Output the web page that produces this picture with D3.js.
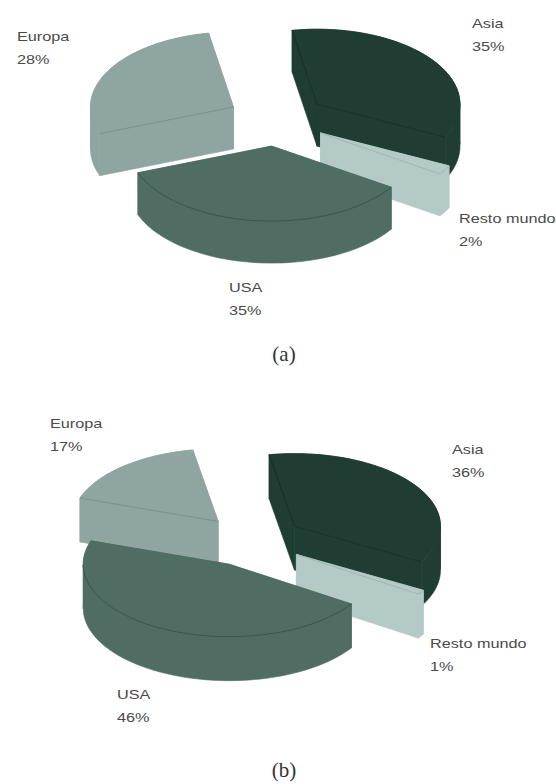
<!DOCTYPE html>
<html>
<head>
<meta charset="utf-8">
<script src="https://cdn.jsdelivr.net/npm/d3@7/dist/d3.min.js"></script>
<style>
  html, body { margin: 0; padding: 0; background: #fff; }
  svg { display: block; }
  .slice-label { font-family: "Liberation Sans", Arial, sans-serif; font-size: 12.5px; fill: #4a4a4a; }
  .panel-tag { font-family: "Liberation Serif", "Times New Roman", serif; font-size: 21px; fill: #333; text-anchor: middle; }
</style>
</head>
<body>
<svg id="chart" width="556" height="784"></svg>
<script>
// Market share by region, one exploded 3D pie per period.
const regions = ["Asia", "Resto mundo", "USA", "Europa"];
const sharesA = [35, 2, 35, 28];
const sharesB = [36, 1, 46, 17];
const colors = ["#1f3d32", "#b4cac6", "#4f6d63", "#8fa5a1"];
const rimColors = ["#172f26", "#a0b7b2", "#3b554b", "#7a918c"];
const panelTags = ["(a)", "(b)"];

// Geometry of each pie: centre, ellipse radii, extrusion, explosion factor.
const panels = [
  {
    shares: sharesA, tag: panelTags[0], tagAt: [284, 361],
    cx: 277, cy: 120, rx: 143, ry: 75, depth: 42, explode: 0.35,
    labelAt: [[472, 28], [459, 223], [229, 292], [17, 41]]
  },
  {
    shares: sharesB, tag: panelTags[1], tagAt: [284, 777],
    cx: 252, cy: 541, rx: 146, ry: 72.5, depth: 44, explode: 0.356,
    labelAt: [[452, 454], [430, 648], [117, 699], [50, 428]]
  }
];

const firstSliceAngle = -10 * Math.PI / 180;
const drawOrder = ["Europa", "Asia", "Resto mundo", "USA"];
const svg = d3.select("#chart");

// Order of the slices stays as given: clockwise from the first slice angle.
const pie = d3.pie().sort(null)
  .startAngle(firstSliceAngle)
  .endAngle(firstSliceAngle + 2 * Math.PI);
const lineGen = d3.line();

function drawPanel(p) {
  const g = svg.append("g");
  const arcs = pie(p.shares);
  const project = (apex, angle, lift) => [
    apex[0] + p.rx * Math.sin(angle),
    apex[1] - p.ry * Math.cos(angle) + lift
  ];

  drawOrder.forEach(name => {
    const i = regions.indexOf(name);
    const a = arcs[i];
    const mid = (a.startAngle + a.endAngle) / 2;
    const apex = [
      p.cx + p.explode * p.rx * Math.sin(mid),
      p.cy - p.explode * p.ry * Math.cos(mid)
    ];
    const sweep = d3.range(0, 61).map(k => a.startAngle + (a.endAngle - a.startAngle) * k / 60);
    const apexLow = [apex[0], apex[1] + p.depth];
    const rim = sweep.map(t => project(apex, t, 0));
    const rimLow = sweep.map(t => project(apex, t, p.depth));
    const s = g.append("g");

    // The outer wall folds where the arc turns back on itself horizontally,
    // so it is cut there into sections that each fill as a simple polygon.
    const sections = [[sweep[0]]];
    d3.pairs(sweep).forEach(([t0, t1]) => {
      if (Math.cos(t0) * Math.cos(t1) < 0) sections.push([t0]);
      sections[sections.length - 1].push(t1);
    });
    const walls = sections.map(sec =>
      sec.map(t => project(apex, t, 0))
        .concat(sec.map(t => project(apex, t, p.depth)).reverse()));

    // Radial cut walls, the outer wall, then the top face.
    const faces = [
      [apex, rim[0], rimLow[0], apexLow],
      [apex, rim[60], rimLow[60], apexLow],
      ...walls,
      [apex].concat(rim)
    ];
    faces.forEach(f => {
      s.append("path")
        .attr("d", lineGen(f) + "Z")
        .attr("fill", colors[i])
        .attr("stroke", colors[i])
        .attr("stroke-width", 0.6);
    });

    // Fold line between top face and the walls turned towards the viewer;
    // the rim only shows it on slices that mostly face the front.
    const frontArc = sweep
      .filter(t => Math.cos(t) < 0)
      .map(t => project(apex, t, 0));
    const edges = [];
    if (Math.sin(a.startAngle) < 0) edges.push([apex, rim[0]]);
    if (Math.sin(a.endAngle) > 0) edges.push([apex, rim[60]]);
    if (frontArc.length > 40) edges.push(frontArc);
    edges.forEach(e => {
      s.append("path")
        .attr("d", lineGen(e))
        .attr("fill", "none")
        .attr("stroke", rimColors[i])
        .attr("stroke-width", 1);
    });
  });

  regions.forEach((name, i) => {
    const t = g.append("text")
      .attr("class", "slice-label")
      .attr("transform", `translate(${p.labelAt[i][0]},${p.labelAt[i][1]}) scale(1.3,1)`);
    t.append("tspan").attr("x", 0).attr("y", 0).text(name);
    t.append("tspan").attr("x", 0).attr("dy", 23).text(p.shares[i] + "%");
  });

  g.append("text")
    .attr("class", "panel-tag")
    .attr("x", p.tagAt[0])
    .attr("y", p.tagAt[1])
    .text(p.tag);
}

panels.forEach(drawPanel);
</script>
</body>
</html>
